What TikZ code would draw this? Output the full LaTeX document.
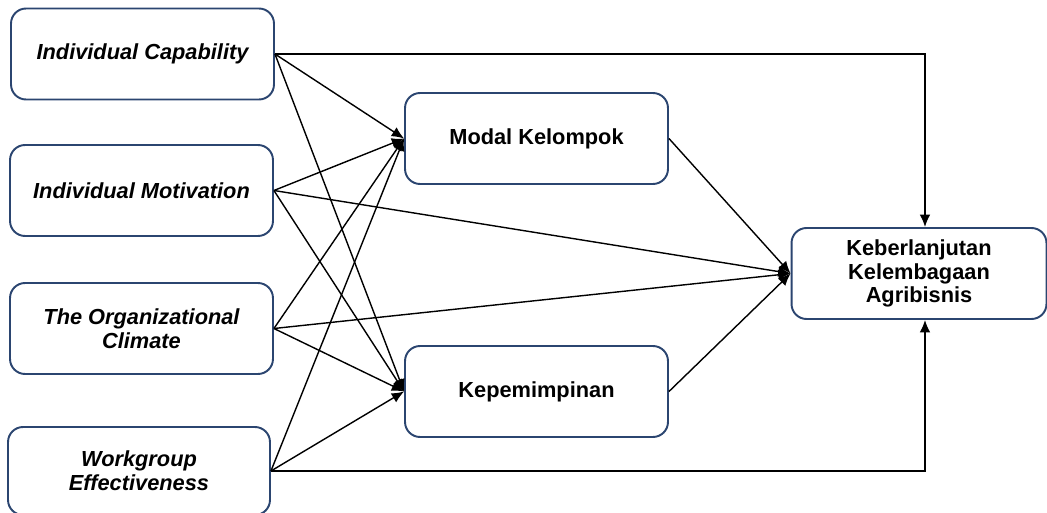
\documentclass[tikz,border=0pt]{standalone}
\usepackage{fontspec}
\setmainfont{Liberation Sans}
\usetikzlibrary{arrows.meta}
\definecolor{boxline}{HTML}{2B4570}

\tikzset{
    varbox/.style={draw=boxline, line width=1.1pt, rounded corners=0.3cm, fill=white,
        align=center, font=\fontsize{12.4}{13.6}\selectfont\bfseries,
        minimum width=5.26cm, minimum height=1.82cm, inner sep=2pt},
    exobox/.style={varbox, font=\fontsize{12.4}{13.6}\selectfont\bfseries\itshape},
    path/.style={draw, line width=0.8pt, -{Latex[length=7pt,width=6pt]}}
}

\begin{document}
\begin{tikzpicture}[x=0.02cm, y=-0.02cm]
    \useasboundingbox (0,0) rectangle (1047,513);

    \node[exobox] (ic) at (142.5,54) {Individual Capability};
    \node[exobox] (im) at (141.5,190.5) {Individual Motivation};
    \node[exobox] (oc) at (141.5,328.5) {The Organizational\\Climate};
    \node[exobox, minimum width=5.24cm, minimum height=1.76cm] (we) at (139,471) {Workgroup\\Effectiveness};
    \node[varbox] (mk) at (536.5,138.5) {Modal Kelompok};
    \node[varbox] (kp) at (536.5,391.5) {Kepemimpinan};
    \node[varbox, minimum width=5.1cm] (kb) at (919,273.5) {Keberlanjutan\\Kelembagaan\\Agribisnis};

    \draw[path] (ic.east) -- (mk.west);
    \draw[path] (ic.east) -- (kp.west);
    \draw[path] (im.east) -- (mk.west);
    \draw[path] (im.east) -- (kp.west);
    \draw[path] (im.east) -- (kb.west);
    \draw[path] (oc.east) -- (mk.west);
    \draw[path] (oc.east) -- (kp.west);
    \draw[path] (oc.east) -- (kb.west);
    \draw[path] (we.east) -- (mk.west);
    \draw[path] (we.east) -- (kp.west);
    \draw[path] (mk.east) -- (kb.west);
    \draw[path] (kp.east) -- (kb.west);
    \draw[path] (ic.east) -| ([xshift=3.4pt]kb.north);
    \draw[path] (we.east) -| ([xshift=3.4pt]kb.south);
\end{tikzpicture}
\end{document}
